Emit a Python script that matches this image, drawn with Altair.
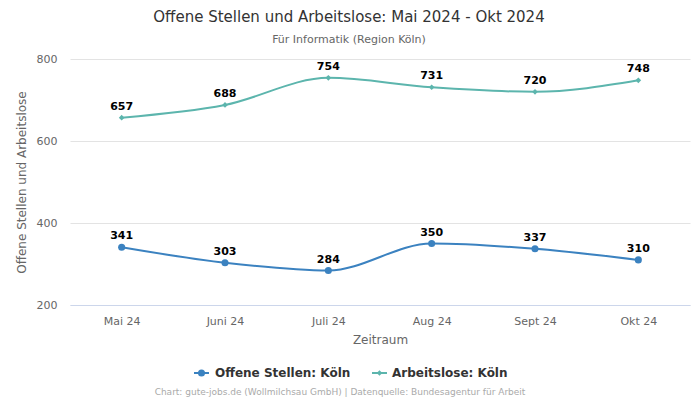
import altair as alt
import pandas as pd

months = ["Mai 24", "Juni 24", "Juli 24", "Aug 24", "Sept 24", "Okt 24"]
offene = [341, 303, 284, 350, 337, 310]
arbeitslose = [657, 688, 754, 731, 720, 748]
series = ["Offene Stellen: Köln", "Arbeitslose: Köln"]
colors = ["#3b82c0", "#5cb5ad"]
footer = "Chart: gute-jobs.de (Wollmilchsau GmbH) | Datenquelle: Bundesagentur für Arbeit"

rows = []
for m, v in zip(months, offene):
    rows.append({"Monat": m, "Wert": v, "Serie": series[0]})
for m, v in zip(months, arbeitslose):
    rows.append({"Monat": m, "Wert": v, "Serie": series[1]})
df = pd.DataFrame(rows)

x = alt.X("Monat:N", sort=months, title="Zeitraum",
          scale=alt.Scale(type="point", padding=0.5),
          axis=alt.Axis(labelAngle=0, labelFontSize=11, labelColor="#666",
                        titleFontSize=12, titleColor="#666", titleFontWeight="normal",
                        ticks=False, domain=True, domainColor="#ccd6eb",
                        labelPadding=10, titlePadding=8, grid=False))
y = alt.Y("Wert:Q", title="Offene Stellen und Arbeitslose",
          scale=alt.Scale(domain=[200, 800], nice=False, zero=False),
          axis=alt.Axis(values=[200, 400, 600, 800], labelFontSize=11, labelColor="#666",
                        titleFontSize=12, titleColor="#666", titleFontWeight="normal",
                        ticks=False, domain=False, gridColor="#e3e3e3",
                        labelPadding=13, titlePadding=8))
color_scale = alt.Scale(domain=series, range=colors)
color_nl = alt.Color("Serie:N", scale=color_scale, legend=None, sort=series)

base = alt.Chart(df)
lines = base.mark_line(interpolate="monotone", strokeWidth=2).encode(
    x=x, y=y, color=color_nl)
pts_a = base.transform_filter(alt.datum.Serie == series[0]).mark_point(
    filled=True, opacity=1, shape="circle", size=50).encode(x=x, y=y, color=color_nl)
pts_b = base.transform_filter(alt.datum.Serie == series[1]).mark_point(
    filled=True, opacity=1, shape="diamond", size=32).encode(x=x, y=y, color=color_nl)
labels = base.mark_text(fontSize=11, fontWeight="bold", color="#000", dy=-11,
                        font="DejaVu Sans").encode(
    x=x, y=y, text="Wert:Q")

# manual legend (line stub + marker + bold label), placed below the axis title
legend_layers = []
legend_pos = [(124, 139, 131.5, 145), (302, 317, 309.5, 322)]
legend_shapes = [("circle", 50), ("diamond", 32)]
LY = 314
for i, s in enumerate(series):
    ldf = pd.DataFrame({"Serie": [s]})
    x0, x1, cx, tx = legend_pos[i]
    shp, sz = legend_shapes[i]
    legend_layers.append(alt.Chart(ldf).mark_rule(strokeWidth=2).encode(
        x=alt.value(x0), x2=alt.value(x1), y=alt.value(LY), color=color_nl))
    legend_layers.append(alt.Chart(ldf).mark_point(
        filled=True, opacity=1, shape=shp, size=sz).encode(
        x=alt.value(cx), y=alt.value(LY), color=color_nl))
    legend_layers.append(alt.Chart(ldf).mark_text(
        align="left", baseline="middle", fontSize=12, fontWeight="bold",
        color="#333", font="DejaVu Sans").encode(
        x=alt.value(tx), y=alt.value(LY), text="Serie:N"))

foot = alt.Chart(pd.DataFrame({"t": [footer]})).mark_text(
    fontSize=9, color="#aaa", font="DejaVu Sans", baseline="middle").encode(
    text="t:N", x=alt.value(270), y=alt.value(333))

chart = alt.layer(lines, pts_a, pts_b, labels, *legend_layers, foot).properties(
    width=620, height=246,
    autosize=alt.AutoSizeParams(type="none"),
    padding={"left": 62, "top": 51, "right": 2, "bottom": 100},
    title=alt.TitleParams(
        text="Offene Stellen und Arbeitslose: Mai 2024 - Okt 2024",
        subtitle="Für Informatik (Region Köln)",
        anchor="middle", dx=-31, fontSize=15, fontWeight="normal", color="#333",
        subtitleFontSize=11, subtitleColor="#666", subtitlePadding=9, offset=8,
        font="DejaVu Sans", subtitleFont="DejaVu Sans"),
).configure(font="DejaVu Sans").configure_view(stroke=None)

chart.save("out.html", embed_options={"renderer": "svg", "actions": False})
